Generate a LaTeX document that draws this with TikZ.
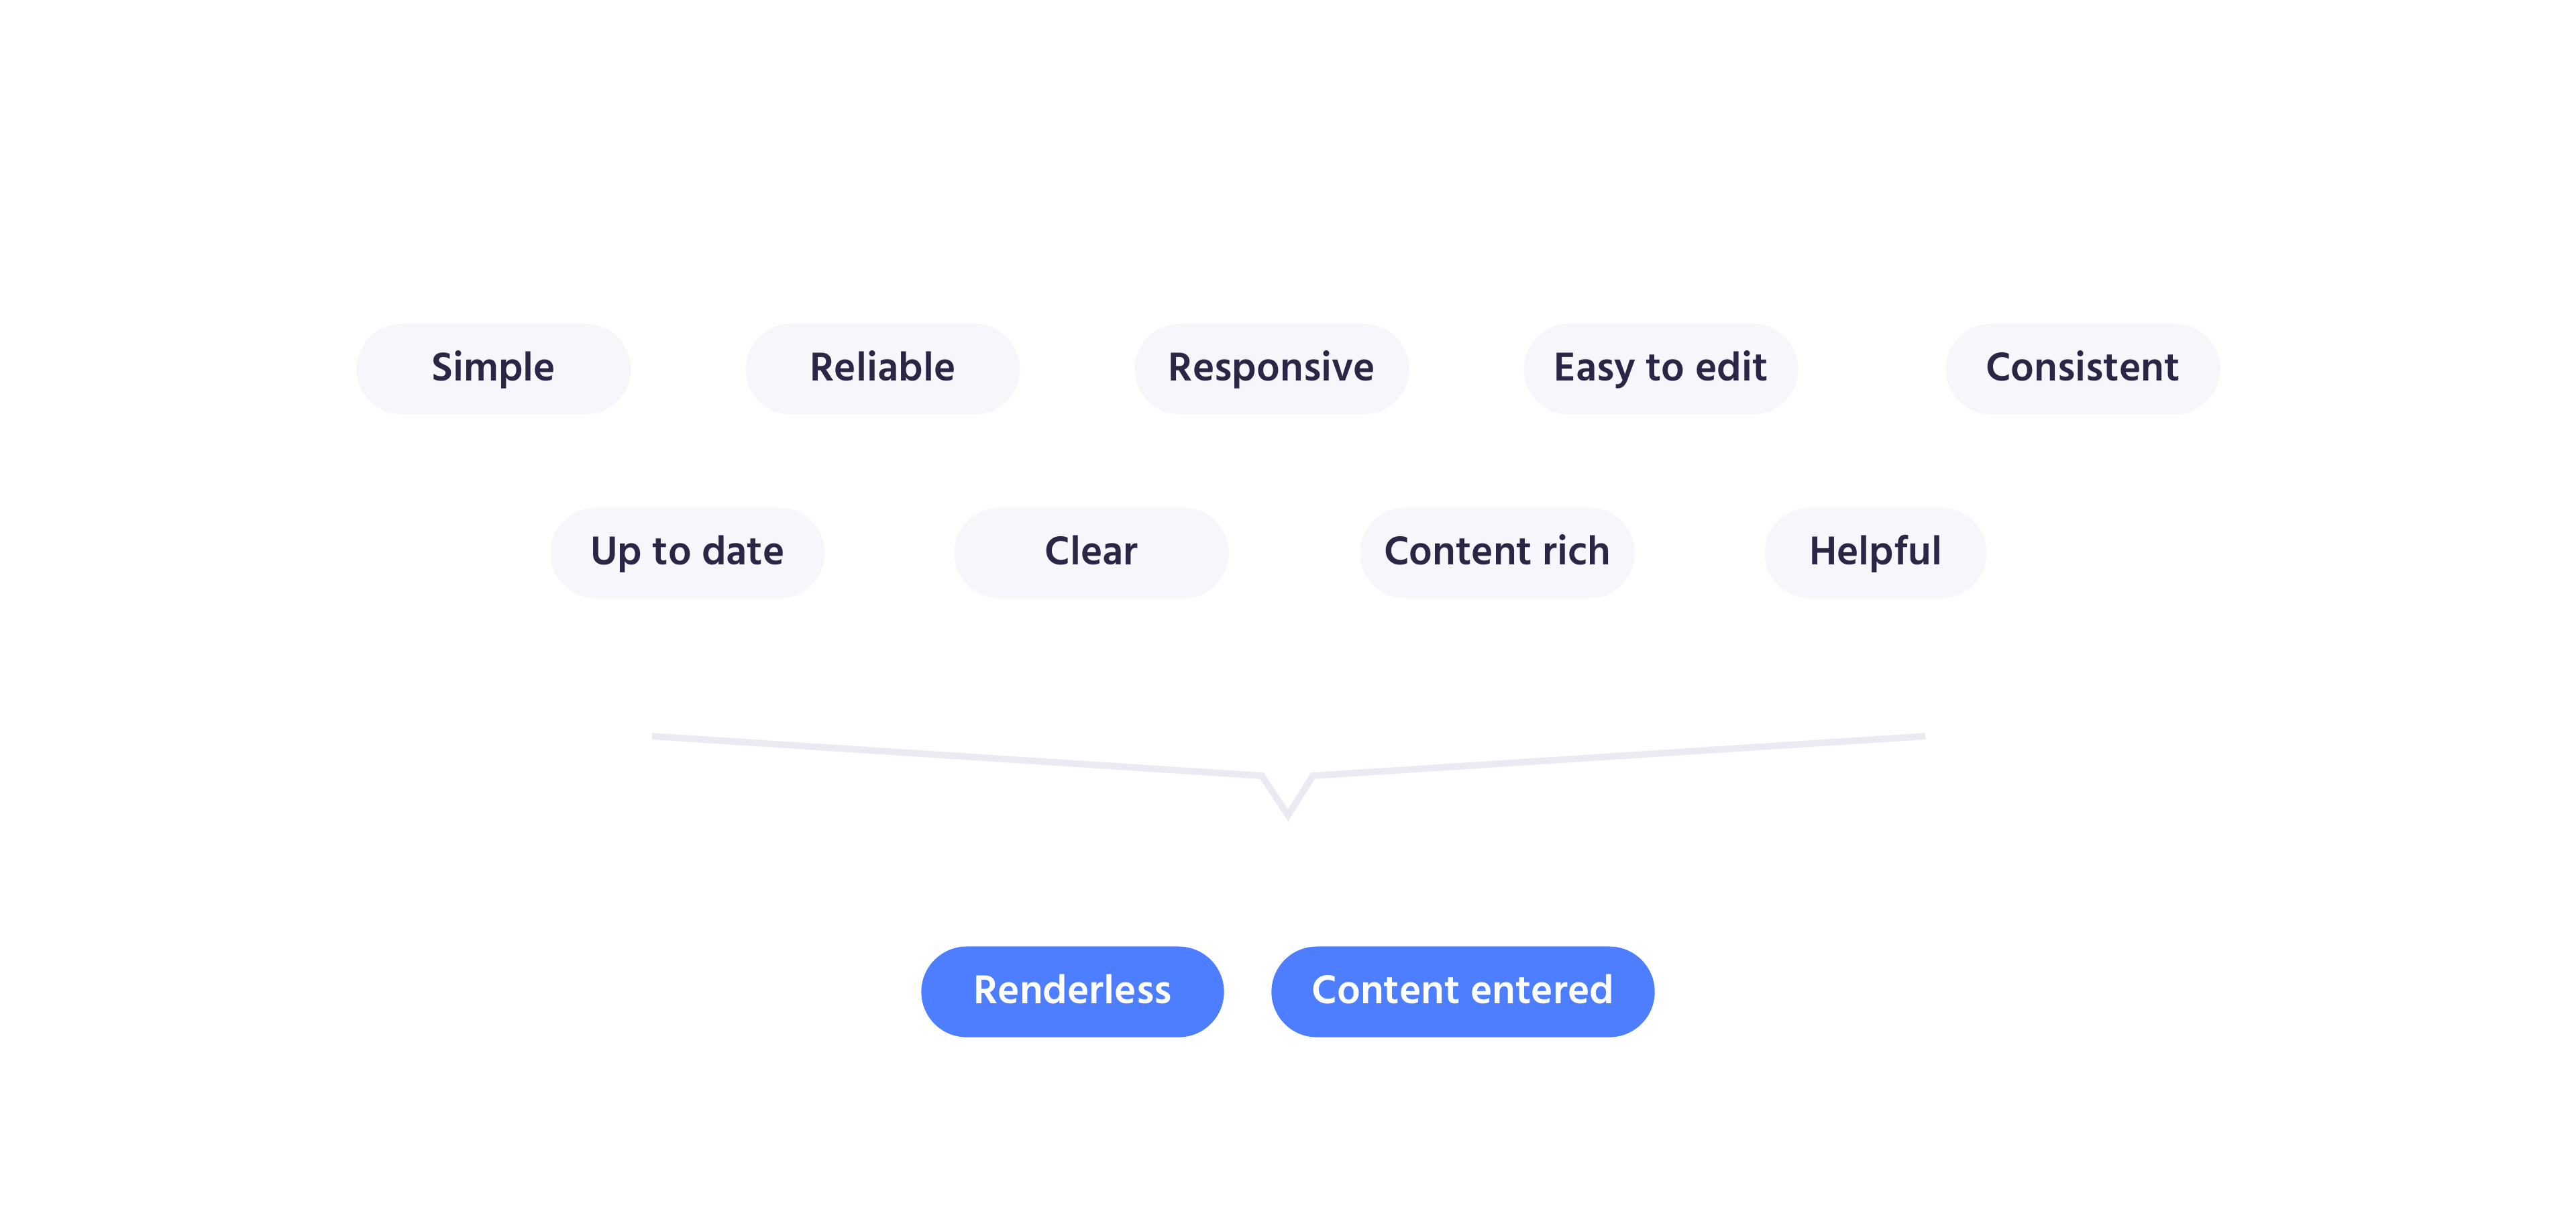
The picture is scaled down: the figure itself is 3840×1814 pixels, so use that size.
\documentclass[tikz,border=0pt]{standalone}
\usepackage{fontspec}
\setmainfont{Hind Madurai}[BoldFont={* SemiBold}]
\definecolor{pillbg}{HTML}{F6F7FB}
\definecolor{pilltx}{HTML}{2A2646}
\definecolor{blue}{HTML}{4C7EFF}
\definecolor{brk}{HTML}{EAEBF2}
\tikzset{
  pill/.style={rectangle, rounded corners=0.675cm, minimum height=1.35cm, fill=pillbg,
    text=pilltx, font=\fontsize{17.5}{21}\selectfont\bfseries, inner sep=0pt,
    text height=0.34cm, text depth=0cm},
  bluepill/.style={pill, fill=blue, text=white},
  bracket/.style={draw=brk, line width=2.8pt, line join=miter}
}
\begin{document}
\begin{tikzpicture}[x=0.01cm,y=-0.01cm]
\useasboundingbox (0,0) rectangle (3840,1814);
\node[pill, minimum width=4.09cm] (simple) at (736,550) {Simple};
\node[pill, minimum width=4.09cm] (reliable) at (1316,550) {Reliable};
\node[pill, minimum width=4.09cm] (responsive) at (1896,550) {Responsive};
\node[pill, minimum width=4.09cm] (easy) at (2476,550) {Easy to edit};
\node[pill, minimum width=4.09cm] (consistent) at (3105,550) {Consistent};
\node[pill, minimum width=4.09cm] (uptodate) at (1025,824) {Up to date};
\node[pill, minimum width=4.09cm] (clear) at (1627,824) {Clear};
\node[pill, minimum width=4.09cm] (rich) at (2232,824) {Content rich};
\node[pill, minimum width=3.31cm] (helpful) at (2796,824) {Helpful};
\coordinate (bl) at (972,1097);
\coordinate (br) at (2870,1097);
\coordinate (tip) at (1920,1215);
\draw[bracket] (bl) -- (1881,1156) -- (tip) -- (1957,1156) -- (br);
\node[bluepill, minimum width=4.51cm] (renderless) at (1599,1478) {Renderless};
\node[bluepill, minimum width=5.71cm] (entered) at (2181,1478) {Content entered};
\end{tikzpicture}
\end{document}
